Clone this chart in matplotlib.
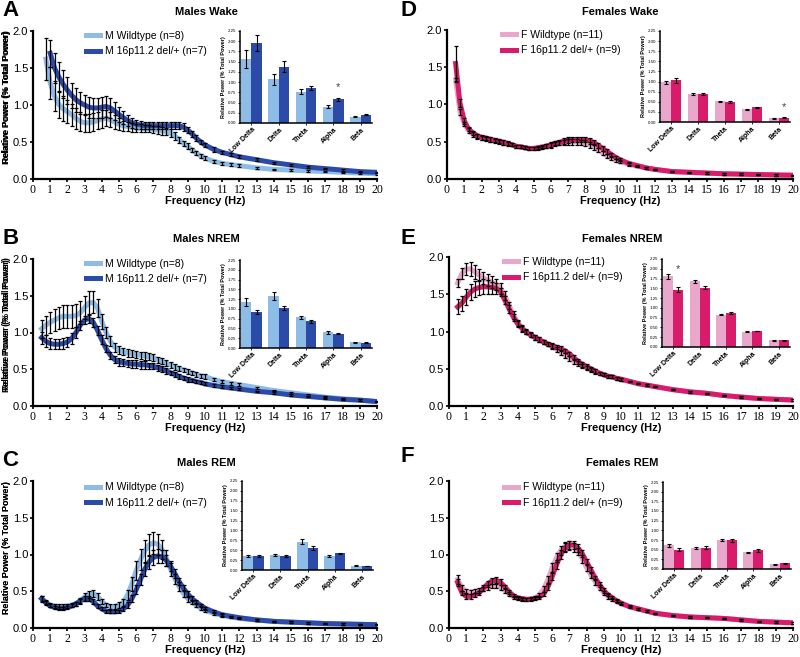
import numpy as np
import matplotlib
matplotlib.use("Agg")
import matplotlib.pyplot as plt

nan = np.nan

# Frequency bins (Hz)
freqs = [0.5, 0.75, 1.0, 1.25, 1.5, 1.75, 2.0, 2.25, 2.5, 2.75,
         3.0, 3.25, 3.5, 3.75, 4.0, 4.25, 4.5, 4.75, 5.0, 5.25,
         5.5, 5.75, 6.0, 6.25, 6.5, 6.75, 7.0, 7.25, 7.5, 7.75,
         8.0, 8.25, 8.5, 8.75, 9.0, 9.25, 9.5, 9.75, 10.0,
         10.5, 11.0, 11.5, 12.0, 13.0, 14.0, 15.0, 16.0, 17.0, 18.0, 19.0, 20.0]

bands = ["Low Delta", "Delta", "Theta", "Alpha", "Beta"]

# ---- A: Males Wake
a_wt = [nan, 1.62, 1.30, 1.12, 1.01, 0.95, 0.91, 0.87, 0.82, 0.78,
        0.76, 0.76, 0.77, 0.79, 0.81, 0.82, 0.80, 0.77, 0.74, 0.72,
        0.71, 0.70, 0.69, 0.69, 0.68, 0.68, 0.67, 0.66, 0.65, 0.64,
        0.62, 0.58, 0.53, 0.48, 0.44, 0.39, 0.35, 0.31, 0.28,
        0.24, 0.21, 0.195, 0.18, 0.15, 0.13, 0.12, 0.11, 0.10, 0.09, 0.08, 0.07]
a_wt_sem = [nan, 0.28, 0.22, 0.20, 0.18, 0.17, 0.16, 0.15, 0.14, 0.13,
            0.12, 0.12, 0.12, 0.12, 0.12, 0.11, 0.10, 0.09, 0.08, 0.07,
            0.06, 0.06, 0.05, 0.05, 0.05, 0.05, 0.05, 0.05, 0.05, 0.05,
            0.05, 0.05, 0.04, 0.04, 0.04, 0.03, 0.03, 0.03, 0.03,
            0.02, 0.02, 0.02, 0.02, 0.015, 0.01, 0.01, 0.01, 0.01, 0.01, 0.01, 0.01]
a_del = [nan, nan, 1.70, 1.50, 1.38, 1.28, 1.20, 1.13, 1.07, 1.03,
         1.00, 0.97, 0.96, 0.96, 0.97, 0.98, 0.96, 0.92, 0.87, 0.83,
         0.79, 0.76, 0.74, 0.73, 0.72, 0.72, 0.72, 0.72, 0.72, 0.72,
         0.72, 0.72, 0.72, 0.70, 0.66, 0.61, 0.55, 0.50, 0.46,
         0.40, 0.36, 0.33, 0.30, 0.26, 0.22, 0.19, 0.16, 0.14, 0.12, 0.10, 0.09]
a_del_sem = [nan, nan, 0.18, 0.20, 0.20, 0.19, 0.18, 0.17, 0.16, 0.15,
             0.14, 0.14, 0.14, 0.14, 0.14, 0.14, 0.13, 0.12, 0.10, 0.09,
             0.08, 0.07, 0.06, 0.05, 0.05, 0.05, 0.05, 0.05, 0.05, 0.05,
             0.05, 0.05, 0.05, 0.05, 0.04, 0.04, 0.04, 0.03, 0.03,
             0.03, 0.02, 0.02, 0.02, 0.02, 0.015, 0.01, 0.01, 0.01, 0.01, 0.01, 0.01]
a_bar_wt = [1.56, 1.07, 0.77, 0.40, 0.15]
a_bar_wt_sem = [0.22, 0.14, 0.06, 0.03, 0.01]
a_bar_del = [1.96, 1.38, 0.85, 0.58, 0.20]
a_bar_del_sem = [0.19, 0.13, 0.05, 0.03, 0.01]

# ---- B: Males NREM
b_wt = [1.05, 1.10, 1.14, 1.17, 1.20, 1.22, 1.22, 1.22, 1.23, 1.27,
        1.34, 1.40, 1.41, 1.33, 1.15, 1.00, 0.88, 0.80, 0.76, 0.74,
        0.72, 0.71, 0.70, 0.69, 0.68, 0.67, 0.66, 0.63, 0.61, 0.58,
        0.56, 0.53, 0.51, 0.49, 0.47, 0.45, 0.43, 0.41, 0.40,
        0.36, 0.33, 0.31, 0.29, 0.25, 0.21, 0.18, 0.15, 0.12, 0.10, 0.08, 0.06]
b_wt_sem = [0.12, 0.13, 0.14, 0.15, 0.15, 0.16, 0.16, 0.16, 0.16, 0.16,
            0.16, 0.16, 0.15, 0.12, 0.10, 0.08, 0.07, 0.06, 0.05, 0.05,
            0.05, 0.05, 0.05, 0.05, 0.05, 0.05, 0.05, 0.04, 0.04, 0.04,
            0.04, 0.04, 0.04, 0.03, 0.03, 0.03, 0.03, 0.03, 0.03,
            0.02, 0.02, 0.02, 0.02, 0.015, 0.01, 0.01, 0.01, 0.01, 0.01, 0.01, 0.01]
b_del = [0.93, 0.88, 0.85, 0.84, 0.84, 0.85, 0.87, 0.92, 1.00, 1.10,
         1.17, 1.19, 1.14, 1.03, 0.90, 0.78, 0.69, 0.63, 0.60, 0.59,
         0.58, 0.57, 0.57, 0.56, 0.56, 0.55, 0.54, 0.52, 0.50, 0.48,
         0.45, 0.43, 0.40, 0.38, 0.36, 0.35, 0.33, 0.32, 0.30,
         0.28, 0.26, 0.245, 0.23, 0.20, 0.18, 0.15, 0.13, 0.11, 0.09, 0.08, 0.06]
b_del_sem = [0.08, 0.08, 0.08, 0.07, 0.07, 0.07, 0.07, 0.07, 0.07, 0.06,
             0.06, 0.06, 0.06, 0.06, 0.06, 0.05, 0.05, 0.05, 0.05, 0.05,
             0.05, 0.05, 0.05, 0.05, 0.05, 0.04, 0.04, 0.04, 0.04, 0.04,
             0.03, 0.03, 0.03, 0.03, 0.03, 0.02, 0.02, 0.02, 0.02,
             0.02, 0.02, 0.015, 0.015, 0.01, 0.01, 0.01, 0.01, 0.01, 0.01, 0.01, 0.01]
b_bar_wt = [1.17, 1.32, 0.78, 0.40, 0.15]
b_bar_wt_sem = [0.10, 0.10, 0.03, 0.03, 0.01]
b_bar_del = [0.93, 1.02, 0.68, 0.37, 0.14]
b_bar_del_sem = [0.05, 0.05, 0.04, 0.02, 0.01]

# ---- C: Males REM
c_wt = [0.40, 0.35, 0.31, 0.30, 0.29, 0.29, 0.30, 0.31, 0.33, 0.37,
        0.42, 0.46, 0.47, 0.43, 0.36, 0.31, 0.29, 0.29, 0.31, 0.35,
        0.45, 0.60, 0.78, 0.93, 1.05, 1.13, 1.16, 1.14, 1.07, 0.95,
        0.80, 0.67, 0.56, 0.47, 0.40, 0.35, 0.31, 0.27, 0.24,
        0.20, 0.17, 0.15, 0.13, 0.11, 0.09, 0.08, 0.07, 0.06, 0.055, 0.05, 0.045]
c_wt_sem = [0.04, 0.03, 0.03, 0.03, 0.03, 0.03, 0.03, 0.03, 0.03, 0.04,
            0.05, 0.05, 0.05, 0.05, 0.04, 0.03, 0.03, 0.03, 0.04, 0.05,
            0.07, 0.10, 0.13, 0.14, 0.15, 0.15, 0.15, 0.14, 0.13, 0.11,
            0.09, 0.07, 0.06, 0.05, 0.04, 0.03, 0.03, 0.03, 0.02,
            0.02, 0.02, 0.02, 0.01, 0.01, 0.01, 0.01, 0.01, 0.01, 0.01, 0.01, 0.01]
c_del = [0.40, 0.34, 0.30, 0.28, 0.27, 0.27, 0.28, 0.30, 0.33, 0.37,
         0.40, 0.40, 0.36, 0.30, 0.26, 0.23, 0.22, 0.22, 0.23, 0.26,
         0.31, 0.40, 0.52, 0.66, 0.80, 0.90, 0.96, 0.98, 0.97, 0.92,
         0.84, 0.74, 0.63, 0.54, 0.46, 0.40, 0.35, 0.31, 0.27,
         0.22, 0.18, 0.16, 0.14, 0.11, 0.09, 0.08, 0.07, 0.06, 0.055, 0.05, 0.045]
c_del_sem = [0.03, 0.03, 0.02, 0.02, 0.02, 0.02, 0.02, 0.02, 0.03, 0.03,
             0.03, 0.03, 0.03, 0.03, 0.02, 0.02, 0.02, 0.02, 0.02, 0.03,
             0.04, 0.05, 0.06, 0.08, 0.09, 0.10, 0.10, 0.10, 0.09, 0.08,
             0.07, 0.06, 0.05, 0.04, 0.04, 0.03, 0.03, 0.02, 0.02,
             0.02, 0.02, 0.01, 0.01, 0.01, 0.01, 0.01, 0.01, 0.01, 0.01, 0.01, 0.01]
c_bar_wt = [0.35, 0.38, 0.72, 0.36, 0.11]
c_bar_wt_sem = [0.03, 0.03, 0.06, 0.03, 0.01]
c_bar_del = [0.35, 0.35, 0.55, 0.42, 0.10]
c_bar_del_sem = [0.02, 0.02, 0.05, 0.02, 0.01]

# ---- D: Females Wake
d_wt = [1.33, 0.90, 0.74, 0.65, 0.60, 0.57, 0.55, 0.54, 0.53, 0.51,
        0.50, 0.49, 0.47, 0.46, 0.44, 0.43, 0.42, 0.41, 0.41, 0.41,
        0.42, 0.44, 0.45, 0.47, 0.48, 0.49, 0.50, 0.50, 0.50, 0.49,
        0.48, 0.46, 0.43, 0.39, 0.35, 0.31, 0.28, 0.25, 0.23,
        0.20, 0.17, 0.15, 0.13, 0.10, 0.09, 0.08, 0.07, 0.065, 0.06, 0.055, 0.05]
d_wt_sem = [0.03, 0.04, 0.03, 0.03, 0.03, 0.03, 0.03, 0.03, 0.03, 0.03,
            0.03, 0.03, 0.03, 0.02, 0.02, 0.02, 0.02, 0.02, 0.02, 0.02,
            0.02, 0.03, 0.03, 0.03, 0.03, 0.04, 0.04, 0.04, 0.04, 0.04,
            0.04, 0.04, 0.04, 0.03, 0.03, 0.03, 0.02, 0.02, 0.02,
            0.02, 0.01, 0.01, 0.01, 0.01, 0.01, 0.01, 0.01, 0.01, 0.01, 0.01, 0.01]
d_del = [1.55, 1.02, 0.78, 0.67, 0.62, 0.58, 0.56, 0.55, 0.53, 0.52,
         0.51, 0.49, 0.48, 0.46, 0.44, 0.43, 0.42, 0.41, 0.41, 0.42,
         0.43, 0.44, 0.46, 0.48, 0.49, 0.51, 0.52, 0.53, 0.53, 0.53,
         0.53, 0.51, 0.49, 0.45, 0.41, 0.37, 0.33, 0.29, 0.26,
         0.21, 0.18, 0.15, 0.13, 0.10, 0.09, 0.08, 0.07, 0.065, 0.06, 0.055, 0.05]
d_del_sem = [0.23, 0.05, 0.04, 0.03, 0.03, 0.03, 0.03, 0.03, 0.03, 0.03,
             0.03, 0.03, 0.03, 0.02, 0.02, 0.02, 0.02, 0.02, 0.02, 0.02,
             0.02, 0.03, 0.03, 0.03, 0.03, 0.04, 0.04, 0.04, 0.04, 0.04,
             0.04, 0.04, 0.04, 0.03, 0.03, 0.03, 0.02, 0.02, 0.02,
             0.02, 0.01, 0.01, 0.01, 0.01, 0.01, 0.01, 0.01, 0.01, 0.01, 0.01, 0.01]
d_bar_wt = [0.98, 0.69, 0.51, 0.31, 0.09]
d_bar_wt_sem = [0.03, 0.02, 0.02, 0.02, 0.01]
d_bar_del = [1.03, 0.69, 0.50, 0.36, 0.11]
d_bar_del_sem = [0.07, 0.03, 0.02, 0.01, 0.01]

# ---- E: Females NREM
e_wt = [1.65, 1.78, 1.84, 1.84, 1.80, 1.76, 1.72, 1.69, 1.66, 1.63,
        1.58, 1.48, 1.35, 1.22, 1.12, 1.05, 1.00, 0.96, 0.92, 0.89,
        0.86, 0.83, 0.80, 0.76, 0.72, 0.68, 0.64, 0.60, 0.57, 0.54,
        0.51, 0.48, 0.46, 0.44, 0.42, 0.40, 0.39, 0.37, 0.36,
        0.33, 0.30, 0.28, 0.26, 0.22, 0.19, 0.17, 0.14, 0.12, 0.10, 0.09, 0.08]
e_wt_sem = [0.05, 0.07, 0.08, 0.09, 0.09, 0.08, 0.08, 0.08, 0.08, 0.07,
            0.07, 0.06, 0.05, 0.05, 0.04, 0.04, 0.03, 0.03, 0.03, 0.03,
            0.03, 0.03, 0.03, 0.03, 0.03, 0.03, 0.03, 0.03, 0.03, 0.03,
            0.03, 0.03, 0.03, 0.02, 0.02, 0.02, 0.02, 0.02, 0.02,
            0.01, 0.01, 0.01, 0.01, 0.01, 0.01, 0.01, 0.01, 0.01, 0.01, 0.01, 0.01]
e_del = [1.33, 1.38, 1.46, 1.53, 1.57, 1.59, 1.60, 1.60, 1.59, 1.58,
         1.53, 1.42, 1.30, 1.19, 1.10, 1.04, 0.99, 0.95, 0.92, 0.89,
         0.86, 0.83, 0.81, 0.79, 0.77, 0.74, 0.70, 0.65, 0.60, 0.56,
         0.53, 0.50, 0.47, 0.44, 0.42, 0.40, 0.39, 0.37, 0.36,
         0.33, 0.30, 0.28, 0.26, 0.22, 0.19, 0.17, 0.14, 0.12, 0.10, 0.09, 0.08]
e_del_sem = [0.10, 0.10, 0.11, 0.11, 0.11, 0.10, 0.10, 0.09, 0.08, 0.07,
             0.06, 0.05, 0.05, 0.05, 0.04, 0.04, 0.03, 0.03, 0.03, 0.03,
             0.03, 0.03, 0.03, 0.03, 0.03, 0.03, 0.03, 0.03, 0.03, 0.03,
             0.03, 0.03, 0.03, 0.02, 0.02, 0.02, 0.02, 0.02, 0.02,
             0.01, 0.01, 0.01, 0.01, 0.01, 0.01, 0.01, 0.01, 0.01, 0.01, 0.01, 0.01]
e_bar_wt = [1.81, 1.68, 0.83, 0.39, 0.17]
e_bar_wt_sem = [0.06, 0.04, 0.02, 0.01, 0.01]
e_bar_del = [1.47, 1.52, 0.87, 0.41, 0.17]
e_bar_del_sem = [0.07, 0.04, 0.02, 0.01, 0.01]

# ---- F: Females REM
f_wt = [0.66, 0.55, 0.50, 0.49, 0.50, 0.51, 0.53, 0.55, 0.57, 0.57,
        0.55, 0.51, 0.46, 0.42, 0.40, 0.39, 0.39, 0.40, 0.41, 0.45,
        0.53, 0.66, 0.82, 0.96, 1.06, 1.11, 1.12, 1.10, 1.04, 0.94,
        0.82, 0.72, 0.63, 0.55, 0.48, 0.43, 0.39, 0.36, 0.33,
        0.29, 0.26, 0.23, 0.20, 0.17, 0.15, 0.14, 0.13, 0.11, 0.09, 0.08, 0.07]
f_wt_sem = [0.06, 0.04, 0.03, 0.03, 0.03, 0.03, 0.03, 0.03, 0.03, 0.03,
            0.03, 0.03, 0.03, 0.02, 0.02, 0.02, 0.02, 0.02, 0.02, 0.03,
            0.04, 0.05, 0.06, 0.06, 0.06, 0.06, 0.06, 0.06, 0.05, 0.05,
            0.05, 0.04, 0.04, 0.03, 0.03, 0.03, 0.02, 0.02, 0.02,
            0.02, 0.01, 0.01, 0.01, 0.01, 0.01, 0.01, 0.01, 0.01, 0.01, 0.01, 0.01]
f_del = [0.62, 0.48, 0.43, 0.43, 0.45, 0.48, 0.54, 0.60, 0.64, 0.65,
         0.62, 0.56, 0.49, 0.44, 0.41, 0.40, 0.39, 0.39, 0.40, 0.42,
         0.46, 0.56, 0.70, 0.86, 1.00, 1.09, 1.13, 1.13, 1.09, 1.01,
         0.90, 0.79, 0.68, 0.59, 0.51, 0.45, 0.41, 0.37, 0.34,
         0.29, 0.26, 0.23, 0.20, 0.17, 0.15, 0.14, 0.13, 0.11, 0.09, 0.08, 0.07]
f_del_sem = [0.05, 0.03, 0.03, 0.03, 0.03, 0.03, 0.04, 0.04, 0.04, 0.04,
             0.04, 0.03, 0.03, 0.02, 0.02, 0.02, 0.02, 0.02, 0.02, 0.02,
             0.03, 0.04, 0.05, 0.06, 0.06, 0.06, 0.06, 0.06, 0.05, 0.05,
             0.04, 0.04, 0.03, 0.03, 0.03, 0.02, 0.02, 0.02, 0.02,
             0.01, 0.01, 0.01, 0.01, 0.01, 0.01, 0.01, 0.01, 0.01, 0.01, 0.01, 0.01]
f_bar_wt = [0.61, 0.54, 0.75, 0.43, 0.12]
f_bar_wt_sem = [0.03, 0.02, 0.03, 0.02, 0.01]
f_bar_del = [0.50, 0.55, 0.74, 0.48, 0.15]
f_bar_del_sem = [0.04, 0.04, 0.04, 0.03, 0.01]

m_labels = ["M Wildtype (n=8)", "M 16p11.2 del/+ (n=7)"]
f_labels = ["F Wildtype (n=11)", "F 16p11.2 del/+ (n=9)"]
m_colors = ["#8dbde6", "#2c4ba8"]
f_colors = ["#eaa7cc", "#d81b6b"]

plt.rcParams["font.family"] = ["Liberation Sans", "DejaVu Sans"]

W, H = 800, 657
fig = plt.figure(figsize=(W / 100, H / 100), dpi=100)


def rect(l, t, r, b):
    return [l / W, 1 - b / H, (r - l) / W, (b - t) / H]


def draw_panel(main_box, inset_box, letter, letter_xy, title, title_xy,
               wt, wt_sem, dl, dl_sem, bwt, bwt_sem, bdl, bdl_sem,
               labels, colors, leg_x, leg_y, star=None):
    l, t, r, b = main_box
    ax = fig.add_axes(rect(*main_box))
    ax.plot(freqs, wt, color=colors[0], lw=3.6, label=labels[0], zorder=2)
    ax.plot(freqs, dl, color=colors[1], lw=3.6, label=labels[1], zorder=3)
    for y, e in [(wt, wt_sem), (dl, dl_sem)]:
        ax.errorbar(freqs, y, yerr=e, fmt="none", ecolor="black",
                    elinewidth=0.9, capsize=1.4, capthick=0.9, zorder=4)
    ax.set_xlim(0, 20)
    ax.set_ylim(0, 2.0)
    ax.set_xticks(range(21), labels=[str(i) for i in range(21)],
                  fontfamily="Liberation Serif", fontsize=8.5)
    ax.set_yticks([0, 0.5, 1.0, 1.5, 2.0])
    ax.set_yticklabels(["0.0", "0.5", "1.0", "1.5", "2.0"], fontsize=8)
    ax.tick_params(direction="out", length=2.5, width=1.2, pad=1)
    for s in ["top", "right"]:
        ax.spines[s].set_visible(False)
    for s in ["left", "bottom"]:
        ax.spines[s].set_linewidth(1.6)
    ax.set_xlabel("Frequency (Hz)", fontsize=8, fontweight="bold")
    ax.xaxis.set_label_coords(0.5, -17 / (b - t))
    ax.set_ylabel("Relative Power (% Total Power)", fontsize=6.4,
                  fontweight="bold")
    ax.yaxis.set_label_coords(-(l - 11) / (r - l), 0.55)
    ax.legend(loc="center left", bbox_to_anchor=(leg_x, leg_y), frameon=False,
              fontsize=7.5, handlelength=1.35, handletextpad=0.45,
              labelspacing=0.5, borderpad=0, borderaxespad=0)

    fig.text(letter_xy[0] / W, 1 - letter_xy[1] / H, letter, fontsize=16,
             fontweight="bold", va="center", ha="left")
    fig.text(title_xy[0] / W, 1 - title_xy[1] / H, title, fontsize=8,
             fontweight="bold", va="center", ha="center")

    # inset bar chart
    ins = fig.add_axes(rect(*inset_box))
    x = np.arange(len(bands))
    w = 0.38
    ins.bar(x - w / 2, bwt, width=w, color=colors[0], zorder=2)
    ins.bar(x + w / 2, bdl, width=w, color=colors[1], zorder=2)
    ins.errorbar(x - w / 2, bwt, yerr=bwt_sem, fmt="none", ecolor="black",
                 elinewidth=0.8, capsize=1.6, capthick=0.8, zorder=3)
    ins.errorbar(x + w / 2, bdl, yerr=bdl_sem, fmt="none", ecolor="black",
                 elinewidth=0.8, capsize=1.6, capthick=0.8, zorder=3)
    ins.set_xlim(-0.42, 4.42)
    ins.set_ylim(0, 2.25)
    ins.set_yticks(np.arange(0, 2.26, 0.25))
    ins.set_yticklabels([f"{v:.2f}" for v in np.arange(0, 2.26, 0.25)],
                        fontsize=3.2)
    ins.set_xticks(x)
    ins.set_xticklabels(bands, rotation=45, ha="right",
                        rotation_mode="anchor", fontsize=5, fontweight="bold")
    ins.tick_params(axis="y", length=1.5, width=0.6, pad=1)
    ins.tick_params(axis="x", length=1.5, width=0.6, pad=1)
    for s in ["top", "right"]:
        ins.spines[s].set_visible(False)
    for s in ["left", "bottom"]:
        ins.spines[s].set_linewidth(1.1)
    ins.set_ylabel("Relative Power (% Total Power)", fontsize=4,
                   fontweight="bold", labelpad=1.5)
    ins.patch.set_alpha(0)
    if star is not None:
        ins.text(star[0], star[1], "*", ha="center", va="center",
                 fontsize=8, color="#444444")
    return ax


draw_panel((33, 31, 377, 179), (240, 31, 372, 123), "A", (2, 11),
           "Males Wake", (206, 12), a_wt, a_wt_sem, a_del, a_del_sem,
           a_bar_wt, a_bar_wt_sem, a_bar_del, a_bar_del_sem,
           m_labels, m_colors, 0.155, 0.915, star=(3 + 0.19, 0.88))
draw_panel((33, 259, 377, 406), (240, 260, 372, 348), "B", (2, 238),
           "Males NREM", (206, 239), b_wt, b_wt_sem, b_del, b_del_sem,
           b_bar_wt, b_bar_wt_sem, b_bar_del, b_bar_del_sem,
           m_labels, m_colors, 0.155, 0.915)
draw_panel((33, 481, 377, 628), (242, 481, 373, 570), "C", (2, 460),
           "Males REM", (206, 463), c_wt, c_wt_sem, c_del, c_del_sem,
           c_bar_wt, c_bar_wt_sem, c_bar_del, c_bar_del_sem,
           m_labels, m_colors, 0.155, 0.905)
draw_panel((447, 30, 793, 179), (660, 31, 790, 122), "D", (401, 11),
           "Females Wake", (620, 12), d_wt, d_wt_sem, d_del, d_del_sem,
           d_bar_wt, d_bar_wt_sem, d_bar_del, d_bar_del_sem,
           f_labels, f_colors, 0.16, 0.915, star=(4 + 0.19, 0.37))
draw_panel((449, 257, 793, 406), (662, 259, 790, 347), "E", (401, 238),
           "Females NREM", (622, 239), e_wt, e_wt_sem, e_del, e_del_sem,
           e_bar_wt, e_bar_wt_sem, e_bar_del, e_bar_del_sem,
           f_labels, f_colors, 0.16, 0.915, star=(0 + 0.19, 2.0))
draw_panel((449, 481, 793, 628), (663, 482, 791, 569), "F", (401, 457),
           "Females REM", (622, 463), f_wt, f_wt_sem, f_del, f_del_sem,
           f_bar_wt, f_bar_wt_sem, f_bar_del, f_bar_del_sem,
           f_labels, f_colors, 0.16, 0.905)

fig.savefig("out.png", dpi=100)
